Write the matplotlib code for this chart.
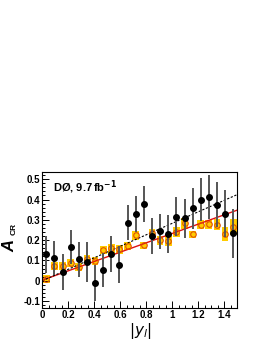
import numpy as np
import matplotlib.pyplot as plt
from matplotlib.patches import Rectangle
from matplotlib.ticker import MultipleLocator

plt.rcParams['font.family'] = ['Liberation Sans', 'DejaVu Sans']

# bin centres in |y_l|
y_l = [0.031, 0.094, 0.156, 0.219, 0.281, 0.344, 0.406, 0.469, 0.531, 0.594, 0.656, 0.719,
       0.781, 0.844, 0.906, 0.969, 1.031, 1.094, 1.156, 1.219, 1.281, 1.344, 1.406, 1.469]

# data (black points) with stat errors
a_data = [0.130, 0.113, 0.044, 0.166, 0.105, 0.093, -0.010, 0.052, 0.131, 0.080, 0.285, 0.328,
          0.377, 0.220, 0.243, 0.230, 0.316, 0.308, 0.356, 0.400, 0.413, 0.374, 0.330, 0.234]
a_err = [0.090, 0.085, 0.090, 0.082, 0.085, 0.100, 0.090, 0.085, 0.088, 0.092, 0.086, 0.090,
         0.088, 0.090, 0.085, 0.095, 0.095, 0.095, 0.100, 0.105, 0.110, 0.110, 0.115, 0.120]

# simulation (open circles) with yellow uncertainty boxes
a_mc = [0.007, 0.072, 0.072, 0.088, 0.066, 0.105, 0.098, 0.151, 0.159, 0.154, 0.170, 0.225,
        0.175, 0.236, 0.200, 0.197, 0.241, 0.282, 0.228, 0.277, 0.279, 0.277, 0.230, 0.266]
mc_err = [0.020, 0.020, 0.020, 0.018, 0.020, 0.020, 0.018, 0.020, 0.020, 0.020, 0.020, 0.022,
          0.018, 0.020, 0.022, 0.025, 0.025, 0.025, 0.018, 0.022, 0.022, 0.028, 0.033, 0.040]

# linear fits: (intercept, slope)
fit_data = (0.0, 0.283)
fit_mc = (0.003, 0.230)

fig = plt.figure(figsize=(2.64, 3.41), dpi=100)
ax = fig.add_axes([0.160, 0.0968, 0.739, 0.3997])

xx = np.array([0.0, 1.5])
for xc, yc, e in zip(y_l, a_mc, mc_err):
    ax.add_patch(Rectangle((xc - 0.026, yc - e), 0.052, 2 * e, facecolor='#ffcc00',
                           edgecolor='none', zorder=1))
ax.plot(xx, fit_mc[0] + fit_mc[1] * xx, color='#dd1111', lw=1.0, zorder=2)
ax.plot(xx, fit_data[0] + fit_data[1] * xx, color='black', lw=0.8, ls=(0, (2, 1.5)), zorder=2)
ax.plot(y_l, a_mc, 'o', ms=4, mfc='none', mec='#e05000', mew=0.8, zorder=3)
ax.errorbar(y_l, a_data, yerr=a_err, fmt='o', color='black', ms=4, ecolor='#555555',
            elinewidth=1.4, capsize=0, zorder=4)

ax.set_xlim(0, 1.5)
ax.set_ylim(-0.134, 0.537)
ax.xaxis.set_minor_locator(MultipleLocator(0.05))
ax.yaxis.set_minor_locator(MultipleLocator(0.02))
ax.set_xticks(np.arange(0, 1.41, 0.2), ['0', '0.2', '0.4', '0.6', '0.8', '1', '1.2', '1.4'])
ax.set_yticks(np.arange(-0.1, 0.51, 0.1), ['-0.1', '0', '0.1', '0.2', '0.3', '0.4', '0.5'])
ax.tick_params(which='both', direction='in', labelsize=7, width=0.7, pad=1.5)
ax.tick_params(which='major', length=5)
ax.tick_params(which='minor', length=2.5)
for lab in ax.get_xticklabels() + ax.get_yticklabels():
    lab.set_fontweight('bold')
for s in ax.spines.values():
    s.set_linewidth(0.8)

ax.text(0.055, 0.95, r'DØ, 9.7$\,$fb$^{\mathbf{-1}}$', transform=ax.transAxes, fontsize=8,
        fontweight='bold', va='top', ha='left')
fig.text(0.038, 0.279, 'A', fontsize=12, fontweight='bold', style='italic', rotation=90,
         ha='center', va='center')
fig.text(0.052, 0.328, 'CR', fontsize=6, fontweight='bold', rotation=90,
         ha='center', va='center')
fig.text(0.53, 0.058, r'$|y_l|$', fontsize=11, ha='center', va='top',
         math_fontfamily='dejavusans')

fig.savefig('out.png', dpi=100)
